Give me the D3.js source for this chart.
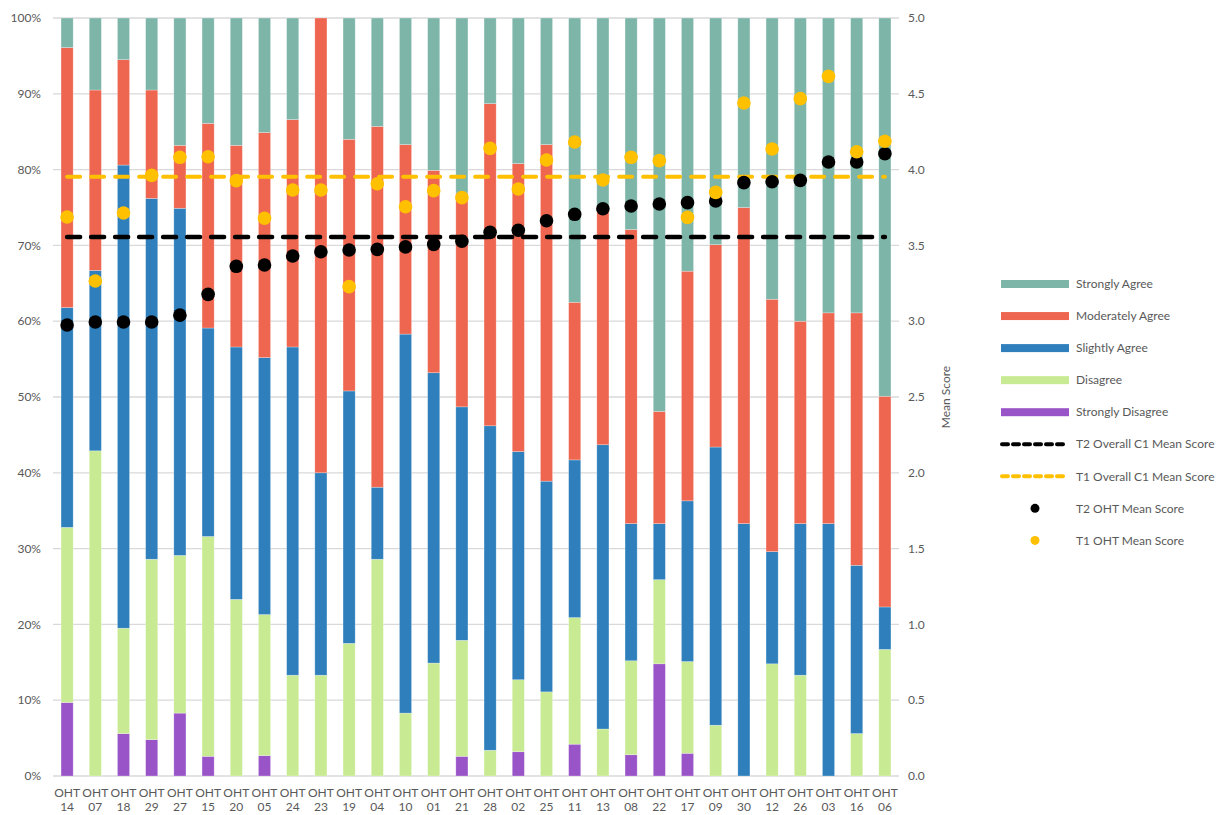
<!DOCTYPE html>
<html>
<head>
<meta charset="utf-8">
<script src="https://cdn.jsdelivr.net/npm/d3@7"></script>
<style>
  body { margin: 0; background: #fff; }
  text { font-family: Lato, "Open Sans", sans-serif; fill: #595959; }
</style>
</head>
<body>
<div id="chart"></div>
<script>
// categories, left to right
const categories = ["14","07","18","29","27","15","20","05","24","23","19","04","10","01","21",
                    "28","02","25","11","13","08","22","17","09","30","12","26","03","16","06"];

// response shares (%)
const stronglyDisagree = [9.7,0,5.6,4.8,8.3,2.6,0,2.7,0,0,0,0,0,0,2.6,0,3.2,0,4.2,0,2.8,14.8,3.0,0,0,0,0,0,0,0];
const disagree         = [23.1,42.9,13.9,23.8,20.8,29.0,23.3,18.6,13.3,13.3,17.5,28.6,8.3,14.9,15.3,3.4,9.5,11.1,16.7,6.2,12.4,11.1,12.1,6.7,0,14.8,13.3,0,5.6,16.7];
const slightlyAgree    = [29.0,23.8,61.1,47.6,45.8,27.5,33.3,33.9,43.3,26.7,33.3,9.5,50.0,38.3,30.8,42.8,30.1,27.8,20.8,37.5,18.1,7.4,21.2,36.7,33.3,14.8,20.0,33.3,22.2,5.6];
const moderatelyAgree  = [34.3,23.8,13.9,14.3,8.3,27.0,26.6,29.7,30.0,60.0,33.2,47.6,25.0,26.7,28.2,42.5,38.0,44.4,20.8,31.3,38.8,14.8,30.3,26.7,41.7,33.3,26.7,27.8,33.3,27.8];
const stronglyAgree    = [3.9,9.5,5.5,9.5,16.8,13.9,16.8,15.1,13.4,0,16.0,14.3,16.7,20.1,23.1,11.3,19.2,16.7,37.5,25.0,27.9,51.9,33.4,29.9,25,37.1,40,38.9,38.9,49.9];

// mean scores (right axis)
const t2Mean = [2.975,2.995,2.995,2.995,3.04,3.177,3.362,3.371,3.43,3.458,3.47,3.474,3.49,3.507,3.527,
                3.586,3.60,3.663,3.705,3.742,3.76,3.773,3.782,3.793,3.914,3.92,3.929,4.05,4.05,4.105];
const t1Mean = [3.687,3.265,3.714,3.962,4.081,4.085,3.927,3.679,3.865,3.865,3.228,3.907,3.755,3.861,3.815,
                4.14,3.872,4.063,4.182,3.931,4.081,4.059,3.685,3.85,4.439,4.136,4.468,4.615,4.118,4.187];
const t2Overall = 3.555;
const t1Overall = 3.953;

const pctTicks = [0,10,20,30,40,50,60,70,80,90,100];
const scoreTicks = [0,0.5,1,1.5,2,2.5,3,3.5,4,4.5,5];

const seriesNames = ["Strongly Disagree","Disagree","Slightly Agree","Moderately Agree","Strongly Agree"];
const seriesColors = ["#9954c8","#c8ea93","#2e7fbc","#ee6650","#7db5a9"];

const rows = categories.map((c, i) => ({
  cat: c,
  "Strongly Disagree": stronglyDisagree[i],
  "Disagree": disagree[i],
  "Slightly Agree": slightlyAgree[i],
  "Moderately Agree": moderatelyAgree[i],
  "Strongly Agree": stronglyAgree[i]
}));

const W = 1220, H = 815;
const plotLeft = 53, plotRight = 899, plotTop = 18, plotBottom = 776;

const svg = d3.select("#chart").append("svg")
  .attr("width", W).attr("height", H);

const x = d3.scaleBand().domain(categories).range([plotLeft, plotRight])
  .paddingInner(0.57).paddingOuter(0.285);
const y = d3.scaleLinear().domain([0, 100]).range([plotBottom, plotTop]);
const y2 = d3.scaleLinear().domain([0, 5]).range([plotBottom, plotTop]);
const cx = c => x(c) + x.bandwidth() / 2;

// gridlines
svg.append("g").selectAll("line").data(pctTicks).enter().append("line")
  .attr("x1", plotLeft).attr("x2", plotRight)
  .attr("y1", d => y(d)).attr("y2", d => y(d))
  .attr("stroke", "#d9d9d9").attr("stroke-width", 1.3);

// left axis labels
svg.append("g").selectAll("text").data(pctTicks).enter().append("text")
  .attr("x", 41).attr("y", d => y(d)).attr("dy", "0.35em")
  .attr("text-anchor", "end").style("font-size", "12px")
  .text(d => d + "%");

// right axis labels
svg.append("g").selectAll("text").data(scoreTicks).enter().append("text")
  .attr("x", 908).attr("y", d => y2(d)).attr("dy", "0.35em")
  .style("font-size", "12px")
  .text(d => d.toFixed(1));

svg.append("text")
  .attr("transform", `translate(950, ${(plotTop + plotBottom) / 2}) rotate(-90)`)
  .attr("text-anchor", "middle").style("font-size", "12px")
  .text("Mean Score");

// stacked bars
const stack = d3.stack().keys(seriesNames);
const layers = stack(rows);

svg.append("g").selectAll("g").data(layers).enter().append("g")
    .attr("fill", (d, i) => seriesColors[i])
  .selectAll("rect").data(d => d).enter().append("rect")
    .attr("x", d => x(d.data.cat))
    .attr("width", x.bandwidth())
    .attr("y", d => y(d[1]))
    .attr("height", d => y(d[0]) - y(d[1]))
    .attr("stroke", "rgba(255,255,255,0.45)")
    .attr("stroke-width", 0.6);

// x labels
const xl = svg.append("g").selectAll("text").data(categories).enter().append("text")
  .attr("text-anchor", "middle").style("font-size", "12px");
xl.append("tspan").attr("x", d => cx(d)).attr("y", 797).text("OHT");
xl.append("tspan").attr("x", d => cx(d)).attr("y", 811).text(d => d);

// overall dashed lines
const first = categories[0], last = categories[categories.length - 1];
svg.append("line")
  .attr("x1", cx(first)).attr("x2", cx(last))
  .attr("y1", y2(t2Overall)).attr("y2", y2(t2Overall))
  .attr("stroke", "#000").attr("stroke-width", 4.5)
  .attr("stroke-dasharray", "13,11").attr("stroke-linecap", "round");
svg.append("line")
  .attr("x1", cx(first)).attr("x2", cx(last))
  .attr("y1", y2(t1Overall)).attr("y2", y2(t1Overall))
  .attr("stroke", "#ffc000").attr("stroke-width", 4)
  .attr("stroke-dasharray", "13,11").attr("stroke-linecap", "round");

// dots
svg.append("g").selectAll("circle").data(t2Mean).enter().append("circle")
  .attr("cx", (d, i) => cx(categories[i])).attr("cy", d => y2(d))
  .attr("r", 6.8).attr("fill", "#000");
svg.append("g").selectAll("circle").data(t1Mean).enter().append("circle")
  .attr("cx", (d, i) => cx(categories[i])).attr("cy", d => y2(d))
  .attr("r", 6.8).attr("fill", "#ffc000");

// legend
const legendItems = [
  {name: "Strongly Agree", type: "bar", color: seriesColors[4]},
  {name: "Moderately Agree", type: "bar", color: seriesColors[3]},
  {name: "Slightly Agree", type: "bar", color: seriesColors[2]},
  {name: "Disagree", type: "bar", color: seriesColors[1]},
  {name: "Strongly Disagree", type: "bar", color: seriesColors[0]},
  {name: "T2 Overall C1 Mean Score", type: "dash", color: "#000"},
  {name: "T1 Overall C1 Mean Score", type: "dash", color: "#ffc000"},
  {name: "T2 OHT Mean Score", type: "dot", color: "#000"},
  {name: "T1 OHT Mean Score", type: "dot", color: "#ffc000"}
];

const lg = svg.append("g").selectAll("g").data(legendItems).enter().append("g")
  .attr("transform", (d, i) => `translate(1001, ${284 + i * 32.05})`);

lg.filter(d => d.type === "bar").append("rect")
  .attr("x", 0).attr("y", -4).attr("width", 68).attr("height", 8)
  .attr("fill", d => d.color);
lg.filter(d => d.type === "dash").append("line")
  .attr("x1", 1).attr("x2", 67).attr("y1", 0).attr("y2", 0)
  .attr("stroke", d => d.color).attr("stroke-width", 4)
  .attr("stroke-dasharray", "6,5").attr("stroke-linecap", "round");
lg.filter(d => d.type === "dot").append("circle")
  .attr("cx", 34).attr("cy", 0).attr("r", 4.5)
  .attr("fill", d => d.color);

lg.append("text")
  .attr("x", 75).attr("y", 0).attr("dy", "0.35em")
  .style("font-size", "12px")
  .text(d => d.name);
</script>
</body>
</html>
